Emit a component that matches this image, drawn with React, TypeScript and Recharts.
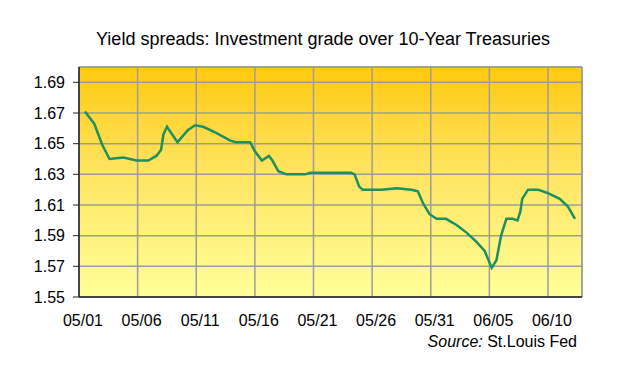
import { LineChart, Line, XAxis, YAxis, CartesianGrid, ReferenceLine } from "recharts";

// day offset from 05/01 and spread (%)
const days = [
  0.5, 1.3, 2.0, 2.6, 3.8, 4.9, 5.9, 6.6, 7.0, 7.2, 7.5, 8.4, 9.3, 9.9, 10.6, 11.7, 12.9, 13.4, 14.6, 15.0,
  15.6, 16.2, 16.5, 17.0, 17.7, 19.3, 19.7, 21.4, 22.5, 23.2, 23.5, 23.9, 24.2, 25.8, 27.1, 28.35, 28.9,
  29.35, 29.9, 30.5, 31.3, 32.2, 33.05, 33.9, 34.6, 35.2, 35.6, 36.0, 36.45, 36.97, 37.4, 37.65, 37.8,
  38.3, 39.15, 39.9, 41.0, 41.7, 42.3,
];
const spread = [
  1.671, 1.663, 1.649, 1.64, 1.641, 1.639, 1.639, 1.642, 1.646, 1.656, 1.661, 1.651, 1.659, 1.662, 1.661,
  1.657, 1.652, 1.651, 1.651, 1.645, 1.639, 1.642, 1.639, 1.632, 1.63, 1.63, 1.631, 1.631, 1.631, 1.631,
  1.63, 1.622, 1.62, 1.62, 1.621, 1.62, 1.619, 1.611, 1.604, 1.601, 1.601, 1.597, 1.592, 1.586, 1.58,
  1.569, 1.574, 1.59, 1.601, 1.601, 1.6, 1.606, 1.614, 1.62, 1.62, 1.618, 1.614, 1.609, 1.601,
];

const xTicks = [0, 5, 10, 15, 20, 25, 30, 35, 40];
const xLabels = ["05/01", "05/06", "05/11", "05/16", "05/21", "05/26", "05/31", "06/05", "06/10"];
const yTicks = [1.55, 1.57, 1.59, 1.61, 1.63, 1.65, 1.67, 1.69];

const X_MAX = 42.9;
const font = "'Liberation Sans', Arial, sans-serif";

const data = days.map((d, i) => ({ day: d, v: spread[i] }));

const XTick = (props: any) => {
  const { x, y, payload } = props;
  const i = xTicks.indexOf(payload.value);
  return (
    <text x={x + 4} y={y} dy="0.71em" textAnchor="middle" fontSize={16} fontFamily={font} fill="#000">
      {xLabels[i]}
    </text>
  );
};

const YTick = (props: any) => {
  const { x, y, payload } = props;
  return (
    <text x={x} y={y} dy="0.355em" textAnchor="end" fontSize={16} fontFamily={font} fill="#000">
      {payload.value.toFixed(2)}
    </text>
  );
};

export default function App() {
  return (
    <div style={{ position: "absolute", left: 0, top: 0, width: 620, height: 366, background: "#fff", fontFamily: font }}>
      <div
        style={{
          position: "absolute",
          left: 0,
          width: 646,
          top: 29,
          textAlign: "center",
          fontSize: 18,
          lineHeight: "20px",
          color: "#000",
        }}
      >
        Yield spreads: Investment grade over 10-Year Treasuries
      </div>
      <LineChart width={620} height={366} data={data} margin={{ top: 67, right: 38, bottom: 39, left: 0 }}>
        <defs>
          <linearGradient id="bg" x1="0" y1="0" x2="0" y2="1">
            <stop offset="0%" stopColor="#FFC90E" />
            <stop offset="45%" stopColor="#FFE460" />
            <stop offset="100%" stopColor="#FFFF99" />
          </linearGradient>
        </defs>
        <CartesianGrid fill="url(#bg)" stroke="#9c9c9c" strokeWidth={1.5} ticks={undefined} />
        <XAxis
          dataKey="day"
          type="number"
          domain={[0, X_MAX]}
          ticks={xTicks}
          height={30}
          tickLine={false}
          tickSize={8}
          tickMargin={10}
          axisLine={{ stroke: "#222", strokeWidth: 1.5 }}
          tick={<XTick />}
          allowDataOverflow
        />
        <YAxis
          type="number"
          domain={[1.55, 1.7]}
          ticks={yTicks}
          width={79}
          tickSize={6}
          tickMargin={8}
          tickLine={{ stroke: "#222" }}
          axisLine={{ stroke: "#222", strokeWidth: 1.5 }}
          tick={<YTick />}
          allowDataOverflow
        />
        <ReferenceLine y={1.7} stroke="#9c9c9c" strokeWidth={1.5} />
        <ReferenceLine x={X_MAX} stroke="#9c9c9c" strokeWidth={1.5} />
        <Line
          type="linear"
          dataKey="v"
          stroke="#1E8F5E"
          strokeWidth={2.5}
          dot={false}
          isAnimationActive={false}
        />
      </LineChart>
      <div
        style={{
          position: "absolute",
          right: 620 - 577,
          top: 333,
          fontSize: 16,
          lineHeight: "18px",
          color: "#000",
          whiteSpace: "nowrap",
        }}
      >
        <i>Source:</i> St.Louis Fed
      </div>
    </div>
  );
}
